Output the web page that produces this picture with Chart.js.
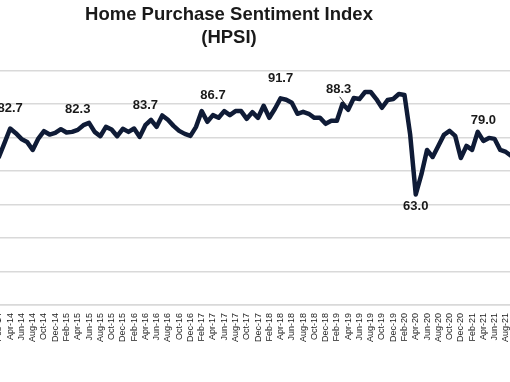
<!DOCTYPE html>
<html>
<head>
<meta charset="utf-8">
<script src="https://cdn.jsdelivr.net/npm/chart.js@4/dist/chart.umd.min.js"></script>
<style>
  html, body { margin: 0; padding: 0; background: #fff; overflow: hidden; }
  #wrap { position: relative; width: 510px; height: 382px; overflow: hidden; }
  #hpsiChart { position: absolute; left: -52px; top: 0; }
</style>
</head>
<body>
<div id="wrap">
  <canvas id="hpsiChart" width="562" height="382"></canvas>
</div>
<script>
// month labels, Jan-14 .. Sep-21
const monthNames = ['Jan', 'Feb', 'Mar', 'Apr', 'May', 'Jun', 'Jul', 'Aug', 'Sep', 'Oct', 'Nov', 'Dec'];
const years = ['14', '15', '16', '17', '18', '19', '20', '21'];
const months = [];
years.forEach(function (yr) {
    monthNames.forEach(function (m) { months.push(m + '-' + yr); });
});
months.length = 93;

// HPSI, one value per month
const hpsi = [
    73.5, 74.2, 78.4, 82.7, 81.3, 79.6, 78.7, 76.3, 79.7, 81.9, 80.9, 81.4, // 2014
    82.5, 81.5, 81.7, 82.3, 83.7, 84.4, 81.7, 80.4, 83.2, 82.4, 80.4, 82.6, // 2015
    81.7, 82.7, 80.2, 83.7, 85.3, 83.2, 86.6, 85.3, 83.5, 82.0, 81.1, 80.5, // 2016
    83.2, 87.9, 84.7, 86.7, 85.9, 87.9, 86.7, 87.9, 87.9, 85.6, 87.6, 85.9, // 2017
    89.5, 85.9, 88.6, 91.7, 91.3, 90.4, 87.1, 87.7, 87.1, 85.9, 85.9, 84.1, // 2018
    85.0, 85.0, 90.1, 88.3, 91.8, 91.5, 93.6, 93.6, 91.5, 88.9, 91.2, 91.5, // 2019
    93.0, 92.7, 81.0, 63.0, 69.0, 76.3, 74.2, 77.5, 80.8, 82.0, 80.5, 73.9, // 2020
    77.5, 76.3, 81.7, 79.0, 79.9, 79.6, 76.3, 75.7, 74.5                    // 2021
];

// x tick positions: every other month starting Feb-14
const tickIdx = [];
for (let i = 1; i < months.length; i += 2) tickIdx.push(i);

// points that carry a value label (April of each year)
const labelIdx = [3, 15, 27, 39, 51, 63, 75, 87];

const valueLabels = {
    id: 'valueLabels',
    afterDatasetsDraw: function (chart) {
        const ctx = chart.ctx;
        const pts = chart.getDatasetMeta(0).data;
        ctx.save();
        ctx.font = 'bold 13px "Liberation Sans", Arial, sans-serif';
        ctx.fillStyle = '#1a1a1a';
        ctx.textAlign = 'center';
        ctx.textBaseline = 'middle';
        labelIdx.forEach(function (i) {
            const p = pts[i];
            let x = p.x;
            let y = p.y - 20;
            if (hpsi[i] < 70) y = p.y + 12;
            if (i === 63) {
                // moved up-left with a leader line
                x = p.x - 9.5;
                ctx.strokeStyle = '#333';
                ctx.lineWidth = 1;
                ctx.beginPath();
                ctx.moveTo(p.x - 8.5, p.y - 13);
                ctx.lineTo(p.x - 3, p.y - 6);
                ctx.stroke();
            }
            ctx.fillText(hpsi[i].toFixed(1), x, y);
        });
        ctx.restore();
    }
};

var ctx = document.getElementById('hpsiChart').getContext('2d');
var chart = new Chart(ctx, {
    type: 'line',
    data: {
        datasets: [{
            label: 'HPSI',
            data: hpsi.map(function (v, i) { return { x: i, y: v }; }),
            borderColor: '#0f1b36',
            borderWidth: 4.5,
            borderJoinStyle: 'round',
            borderCapStyle: 'round',
            pointRadius: 0,
            tension: 0,
            fill: false
        }]
    },
    options: {
        responsive: false,
        animation: false,
        layout: { padding: 0 },
        plugins: {
            legend: { display: false },
            tooltip: { enabled: false },
            title: {
                display: true,
                text: ['Home Purchase Sentiment Index', '(HPSI)'],
                color: '#1a1a1a',
                font: { family: '"Liberation Sans", Arial, sans-serif', size: 18.5, weight: 'bold', lineHeight: 1.205 },
                padding: { top: 4, bottom: 22 }
            }
        },
        scales: {
            x: {
                type: 'linear',
                min: 1.195,
                max: 91.73,
                grid: { display: false },
                border: { display: true, color: '#d9d9d9', width: 1.5 },
                ticks: {
                    autoSkip: false,
                    minRotation: 90,
                    maxRotation: 90,
                    padding: 0,
                    color: '#222',
                    font: { family: '"Liberation Sans", Arial, sans-serif', size: 9 },
                    callback: function (value) { return months[value]; }
                },
                afterBuildTicks: function (s) {
                    s.ticks = tickIdx.map(function (v) { return { value: v }; });
                },
                afterFit: function (s) {
                    s.height = 77;
                    s.paddingLeft = 0;
                    s.paddingRight = 0;
                }
            },
            y: {
                min: 30,
                max: 100,
                ticks: { display: false, stepSize: 10 },
                grid: { color: '#d9d9d9', lineWidth: 1.5, drawTicks: false },
                border: { display: false },
                afterFit: function (s) { s.width = 52; }
            }
        }
    },
    plugins: [valueLabels]
});
</script>
</body>
</html>
